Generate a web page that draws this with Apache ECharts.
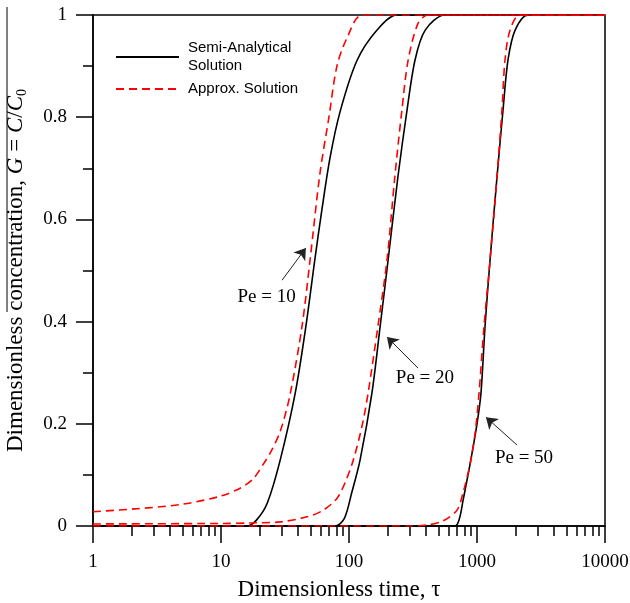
<!DOCTYPE html>
<html>
<head>
<meta charset="utf-8">
<script src="https://cdn.jsdelivr.net/npm/echarts@6/dist/echarts.min.js"></script>
<style>
  html, body { margin: 0; padding: 0; background: #fff; }
  #chart { width: 630px; height: 603px; }
</style>
</head>
<body>
<div id="chart"></div>
<script>
// tau values and G = C/C0
var semi10T = [1, 16, 19, 23, 29, 38, 46, 54, 61.5, 71, 85, 115, 165, 237, 10000];
var semi10G = [0, 0, 0.012, 0.045, 0.129, 0.26, 0.39, 0.52, 0.62, 0.72, 0.81, 0.91, 0.97, 1, 1];
var semi20T = [1, 78, 92, 105, 122, 151, 175, 202, 241, 284, 328, 393, 562, 10000];
var semi20G = [0, 0, 0.015, 0.065, 0.129, 0.26, 0.39, 0.52, 0.683, 0.814, 0.912, 0.97, 1, 1];
var semi50T = [1, 673, 730, 778, 881, 1000, 1074, 1155, 1264, 1433, 1597, 1747, 1982, 2502, 10000];
var semi50G = [0, 0, 0.015, 0.05, 0.12, 0.2, 0.26, 0.39, 0.52, 0.683, 0.814, 0.912, 0.97, 1, 1];

var appr10T = [1, 2, 4.8, 9.8, 14.1, 17.8, 21.3, 24.5, 29, 34.5, 42.9, 49.6, 59.3, 69.7, 80.5, 96.5, 128, 10000];
var appr10G = [0.028, 0.033, 0.042, 0.058, 0.074, 0.092, 0.12, 0.145, 0.185, 0.255, 0.39, 0.52, 0.69, 0.8, 0.9, 0.955, 1, 1];
var appr20T = [1, 10, 17, 29, 47, 63, 81, 95, 108, 126, 141, 168, 198, 228, 259, 290, 347, 415, 10000];
var appr20G = [0.004, 0.005, 0.006, 0.008, 0.018, 0.031, 0.055, 0.09, 0.129, 0.194, 0.26, 0.39, 0.52, 0.683, 0.814, 0.912, 0.984, 1, 1];
var appr50T = [1, 300, 407, 542, 698, 778, 881, 965, 1037, 1134, 1264, 1433, 1567, 1655, 1811, 2168, 10000];
var appr50G = [0, 0, 0.002, 0.01, 0.031, 0.065, 0.12, 0.18, 0.26, 0.39, 0.52, 0.683, 0.814, 0.912, 0.97, 1, 1];

// annotations: label position, arrow tail, arrow head (data coordinates)
var peLabels = ['Pe = 10', 'Pe = 20', 'Pe = 50'];
var peLabelT = [22.7, 392, 2329];
var peLabelG = [0.448, 0.29, 0.133];
var arrowTailT = [30, 346, 2054];
var arrowTailG = [0.481, 0.309, 0.1585];
var arrowHeadT = [46, 198, 1175];
var arrowHeadG = [0.544, 0.37, 0.213];

var xTicks = [1, 10, 100, 1000, 10000];

var SERIF = 'Liberation Serif, Times New Roman, serif';
var SANS = 'Liberation Sans, Arial, sans-serif';
var SEMI = 'Semi-Analytical\nSolution';
var APPR = 'Approx. Solution';

function pairs(t, g) {
  var out = [];
  for (var i = 0; i < t.length; i++) out.push([t[i], g[i]]);
  return out;
}

function curve(name, t, g, dashed) {
  return {
    name: name,
    type: 'line',
    data: pairs(t, g),
    showSymbol: false,
    symbol: 'none',
    smooth: 0.3,
    z: dashed ? 3 : 2,
    lineStyle: {
      color: dashed ? '#ff0000' : '#000',
      width: 1.6,
      type: dashed ? [8, 5] : 'solid'
    },
    itemStyle: { color: dashed ? '#ff0000' : '#000' },
    animation: false
  };
}

var arrows = [];
var labelPts = [];
for (var i = 0; i < peLabels.length; i++) {
  arrows.push([{ coord: [arrowTailT[i], arrowTailG[i]] }, { coord: [arrowHeadT[i], arrowHeadG[i]] }]);
  labelPts.push({ name: peLabels[i], value: [peLabelT[i], peLabelG[i]] });
}

var chart = echarts.init(document.getElementById('chart'), null, { renderer: 'canvas' });

var option = {
  backgroundColor: '#fff',
  animation: false,
  grid: {
    left: 93, right: 25, top: 15, bottom: 77,
    outerBoundsMode: 'none',
    containLabel: false,
    show: true, borderColor: '#000', borderWidth: 1.5
  },
  legend: {
    data: [SEMI, APPR],
    orient: 'vertical',
    left: 115, top: 39,
    padding: 0,
    itemGap: 5,
    itemWidth: 63,
    itemHeight: 14,
    selectedMode: false,
    itemStyle: { opacity: 0 },
    textStyle: { fontFamily: SANS, fontSize: 15, color: '#000', lineHeight: 18, padding: [0, 0, 0, 4] }
  },
  xAxis: {
    type: 'log',
    logBase: 10,
    min: 1,
    max: 10000,
    name: 'Dimensionless time, τ',
    nameLocation: 'middle',
    nameGap: 52,
    nameTextStyle: { fontFamily: SERIF, fontSize: 23, color: '#000', padding: [0, 20, 0, 0] },
    axisLine: { onZero: false, lineStyle: { color: '#000', width: 1.5 } },
    axisTick: { length: 17, lineStyle: { color: '#000', width: 1.5 } },
    minorTick: { show: true, splitNumber: 9, length: 10, lineStyle: { color: '#000', width: 1.5 } },
    splitLine: { show: false },
    minorSplitLine: { show: false },
    axisLabel: {
      fontFamily: SERIF, fontSize: 19, color: '#000', margin: 27,
      formatter: function (v) { return xTicks.indexOf(v) >= 0 ? String(v) : ''; }
    }
  },
  yAxis: {
    type: 'value',
    min: 0,
    max: 1,
    interval: 0.2,
    name: 'Dimensionless concentration, {i|G} = {i|C}/{i|C}{s|0}',
    nameLocation: 'middle',
    nameGap: 64,
    nameTextStyle: {
      fontFamily: SERIF, fontSize: 23, color: '#000',
      rich: {
        i: { fontFamily: SERIF, fontSize: 23, fontStyle: 'italic', color: '#000' },
        s: { fontFamily: SERIF, fontSize: 14, color: '#000', verticalAlign: 'bottom', lineHeight: 26 }
      }
    },
    axisLine: { onZero: false, lineStyle: { color: '#000', width: 1.5 } },
    axisTick: { length: 17, lineStyle: { color: '#000', width: 1.5 } },
    minorTick: { show: true, splitNumber: 2, length: 10, lineStyle: { color: '#000', width: 1.5 } },
    splitLine: { show: false },
    axisLabel: { fontFamily: SERIF, fontSize: 19, color: '#000', margin: 26 }
  },
  graphic: [{
    type: 'line',
    shape: { x1: 7, y1: 7, x2: 7, y2: 312 },
    style: { stroke: '#000', lineWidth: 1 }
  }],
  series: [
    curve(SEMI, semi10T, semi10G, false),
    curve(SEMI, semi20T, semi20G, false),
    curve(SEMI, semi50T, semi50G, false),
    curve(APPR, appr10T, appr10G, true),
    curve(APPR, appr20T, appr20G, true),
    curve(APPR, appr50T, appr50G, true),
    {
      name: 'annotations',
      type: 'scatter',
      data: labelPts,
      symbolSize: 0,
      z: 5,
      silent: true,
      itemStyle: { color: '#000', opacity: 1 },
      label: {
        show: true,
        position: 'inside',
        formatter: '{b}',
        fontFamily: SERIF,
        fontSize: 19,
        color: '#000'
      },
      markLine: {
        silent: true,
        symbol: ['none', 'arrow'],
        symbolSize: 11,
        label: { show: false },
        itemStyle: { color: '#000' },
        lineStyle: { color: '#222', width: 1, type: 'solid' },
        data: arrows,
        animation: false
      }
    }
  ]
};

chart.setOption(option);
</script>
</body>
</html>
